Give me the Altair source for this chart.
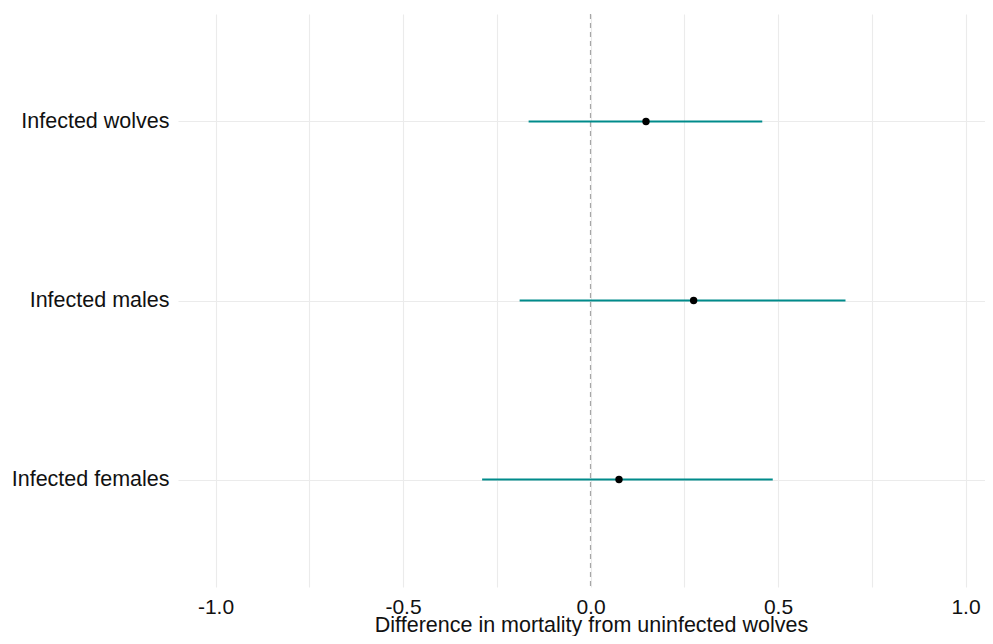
import altair as alt
import pandas as pd

groups = ["Infected wolves", "Infected males", "Infected females"]
estimates = [0.148, 0.275, 0.076]
lower = [-0.165, -0.189, -0.289]
upper = [0.458, 0.680, 0.486]
x_ticks = [-1.0, -0.75, -0.5, -0.25, 0.0, 0.25, 0.5, 0.75, 1.0]
ref_value = [0.0]

df = pd.DataFrame({"group": groups, "est": estimates, "lo": lower, "hi": upper})
ref = pd.DataFrame({"x": ref_value})

FONT = "Liberation Sans"
TITLE = "Difference in mortality from uninfected wolves"

xscale = alt.Scale(domain=[-1.1, 1.052], nice=False, zero=False)
yscale = alt.Scale(type="point", domain=groups, padding=0.6)

xaxis = alt.Axis(
    values=x_ticks,
    labelExpr="abs(datum.value * 2 - round(datum.value * 2)) < 0.001 ? (datum.value < 0 ? '-' : '') + format(abs(datum.value), '.1f') : ''",
    grid=True, gridColor="#ebebeb", gridWidth=1.1,
    ticks=False, domain=False,
    labelFont=FONT, labelFontSize=21, labelColor="#111111",
    labelPadding=9, labelOverlap=False, labelFlush=False,
    title=TITLE, titleFont=FONT, titleFontSize=21.5, titleFontWeight="normal",
    titleColor="#111111", titleX=413, titleY=44, titleBaseline="alphabetic",
    titleAlign="center",
)
yaxis = alt.Axis(
    grid=True, gridColor="#ebebeb", gridWidth=1.1,
    ticks=False, domain=False,
    labelFont=FONT, labelFontSize=21.5, labelColor="#111111",
    labelPadding=9, labelBaseline="middle", labelLimit=300,
    title=None,
)

refline = alt.Chart(ref).mark_rule(color="#a6a6a6", strokeWidth=1.2, strokeDash=[5, 4]).encode(
    x=alt.X("x:Q", scale=xscale, axis=xaxis),
)

bars = alt.Chart(df).mark_rule(color="#008B8B", strokeWidth=2).encode(
    x=alt.X("lo:Q", scale=xscale, axis=xaxis),
    x2="hi:Q",
    y=alt.Y("group:N", scale=yscale, axis=yaxis, sort=groups),
)

points = alt.Chart(df).mark_point(filled=True, color="black", opacity=1, size=55).encode(
    x=alt.X("est:Q", scale=xscale, axis=xaxis),
    y=alt.Y("group:N", scale=yscale, axis=yaxis, sort=groups),
)

chart = alt.layer(refline, bars, points).properties(
    width=807,
    height=573,
    padding={"left": 170, "top": 6, "right": 0, "bottom": 49},
    autosize=alt.AutoSizeParams(type="none"),
    background="white",
).configure_view(stroke=None)

chart.save("out.html", embed_options={"renderer": "svg", "actions": False})
